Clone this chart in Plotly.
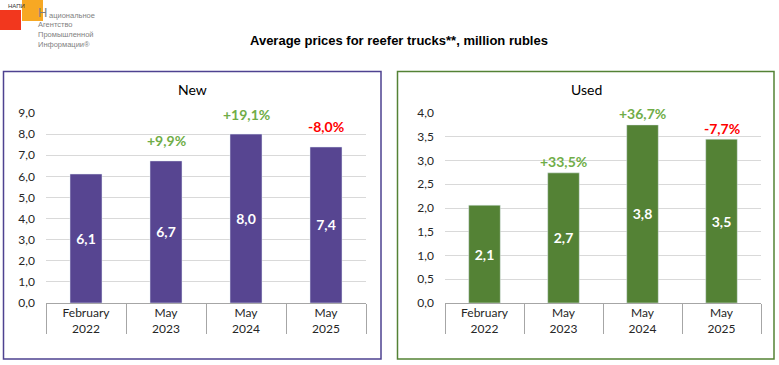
import plotly.graph_objects as go

W, H = 779, 365

categories = ["February<br>2022", "May<br>2023", "May<br>2024", "May<br>2025"]
new_values = [6.11, 6.73, 8.0, 7.39]
used_values = [2.06, 2.74, 3.75, 3.45]
new_changes = ["", "+9,9%", "+19,1%", "-8,0%"]
used_changes = ["", "+33,5%", "+36,7%", "-7,7%"]
new_ticks = [0, 1, 2, 3, 4, 5, 6, 7, 8, 9]
used_ticks = [0, 0.5, 1, 1.5, 2, 2.5, 3, 3.5, 4]

title = "Average prices for reefer trucks**, million rubles"
panel_titles = ["New", "Used"]
logo_first = "Н"
logo_line1 = "ациональное"
logo_rest = "Агентство<br>Промышленной<br>Информации®"

PURPLE = "#574591"
GREEN = "#548235"
POS = "#70AD47"
NEG = "#FF0000"
GRID = "#D9D9D9"
AXIS = "#A6A6A6"
LOGO_GREY = "#7F7F7F"
FONT = "Lato, 'Open Sans', sans-serif"


def px(x):
    return x / W


def py(y):
    return 1 - y / H


fig = go.Figure()
fig.add_trace(go.Bar(x=categories, y=new_values, marker_color=PURPLE,
                     texttemplate="%{y:.1f}", textposition="inside", insidetextanchor="middle",
                     textfont=dict(color="white", size=14, family=FONT, weight="bold"),
                     constraintext="none", xaxis="x", yaxis="y", showlegend=False))
fig.add_trace(go.Bar(x=categories, y=used_values, marker_color=GREEN,
                     texttemplate="%{y:.1f}", textposition="inside", insidetextanchor="middle",
                     textfont=dict(color="white", size=14, family=FONT, weight="bold"),
                     constraintext="none", xaxis="x2", yaxis="y2", showlegend=False))

xcommon = dict(type="category", showgrid=False, showline=True, linecolor=AXIS, linewidth=1,
               ticks="outside", tickson="boundaries", ticklen=30, tickcolor=AXIS, tickwidth=1,
               ticklabelstandoff=-1, tickfont=dict(size=12, family=FONT, color="#262626"),
               fixedrange=True, automargin=False)
ycommon = dict(showgrid=True, gridcolor=GRID, gridwidth=1, zeroline=False, showline=False,
               tickformat=".1f", ticks="", ticklabelstandoff=10,
               tickfont=dict(size=12, family=FONT, color="#262626"), fixedrange=True, automargin=False)

fig.update_layout(
    width=W, height=H, margin=dict(l=0, r=0, t=0, b=0, pad=0, autoexpand=False),
    paper_bgcolor="white", plot_bgcolor="white", separators=", ",
    bargap=0.6, showlegend=False,
    xaxis=dict(domain=[px(46), px(366)], anchor="y", **xcommon),
    yaxis=dict(domain=[py(303), py(113)], anchor="x", range=[0, 9], tickvals=new_ticks, **ycommon),
    xaxis2=dict(domain=[px(445), px(761)], anchor="y2", **xcommon),
    yaxis2=dict(domain=[py(303), py(113)], anchor="x2", range=[0, 4], tickvals=used_ticks, **ycommon),
)

shapes = [
    dict(type="rect", xref="paper", yref="paper", x0=px(3.5), x1=px(381), y0=py(359), y1=py(71.5),
         line=dict(color="#4E4290", width=1.5), fillcolor="rgba(0,0,0,0)", layer="below"),
    dict(type="rect", xref="paper", yref="paper", x0=px(397.5), x1=px(774), y0=py(359), y1=py(71.5),
         line=dict(color=GREEN, width=1.5), fillcolor="rgba(0,0,0,0)", layer="below"),
    dict(type="rect", xref="paper", yref="paper", x0=px(0), x1=px(21), y0=py(30), y1=py(10),
         line=dict(width=0), fillcolor="#F2371E"),
    dict(type="rect", xref="paper", yref="paper", x0=px(22), x1=px(43), y0=py(21), y1=py(0),
         line=dict(width=0), fillcolor="#F7A823"),
]

annotations = [
    dict(text=f"<b>{title}</b>", xref="paper", yref="paper", x=px(399), y=py(40),
         xanchor="center", yanchor="middle",
         showarrow=False, font=dict(size=13, family="Liberation Sans, Arial", color="black")),
    dict(text=panel_titles[0], xref="paper", yref="paper", x=px(192), y=py(89),
         xanchor="center", yanchor="middle",
         showarrow=False, font=dict(size=14, family=FONT, color="black")),
    dict(text=panel_titles[1], xref="paper", yref="paper", x=px(586), y=py(89),
         xanchor="center", yanchor="middle",
         showarrow=False, font=dict(size=14, family=FONT, color="black")),
    dict(text="НАПИ", xref="paper", yref="paper", x=px(7), y=py(6), xanchor="left", yanchor="middle",
         showarrow=False, borderpad=0, font=dict(size=6, family="Liberation Sans", color="#333333")),
    dict(text=logo_first, xref="paper", yref="paper", x=px(37), y=py(12.5), xanchor="left",
         yanchor="middle", showarrow=False, borderpad=0,
         font=dict(size=13, family="Liberation Sans, Arial", color=LOGO_GREY)),
    dict(text=logo_line1, xref="paper", yref="paper", x=px(47.5), y=py(15.5), xanchor="left",
         yanchor="middle", showarrow=False, borderpad=0,
         font=dict(size=7.5, family="Liberation Sans, Arial", color=LOGO_GREY)),
    dict(text=logo_rest, xref="paper", yref="paper", x=px(37), y=py(50.5), xanchor="left",
         yanchor="bottom", align="left", showarrow=False, borderpad=0,
         font=dict(size=7.5, family="Liberation Sans, Arial", color=LOGO_GREY)),
]

for cat, val, ch in zip(categories, new_values, new_changes):
    if ch:
        annotations.append(dict(text=f"<b>{ch}</b>", x=cat, y=val, xref="x", yref="y", showarrow=False,
                                yanchor="middle", yshift=20,
                                font=dict(size=14, family=FONT, color=NEG if ch.startswith("-") else POS)))
for cat, val, ch in zip(categories, used_values, used_changes):
    if ch:
        annotations.append(dict(text=f"<b>{ch}</b>", x=cat, y=val, xref="x2", yref="y2", showarrow=False,
                                yanchor="middle", yshift=11,
                                font=dict(size=14, family=FONT, color=NEG if ch.startswith("-") else POS)))

fig.update_layout(shapes=shapes, annotations=annotations)

page_css = ("document.body.style.margin='0';document.body.style.padding='0';"
            "document.documentElement.style.overflow='hidden';document.body.style.overflow='hidden';")
fig.write_html("out.html", config={"displayModeBar": False}, post_script=page_css)
